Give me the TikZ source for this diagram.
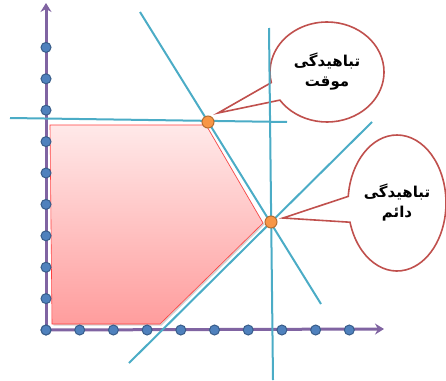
\documentclass[tikz,border=0pt]{standalone}
\usepackage{fontspec}
\newfontfamily\arabicfont[Script=Arabic]{DejaVu Sans}
\TeXXeTstate=1
\usetikzlibrary{shapes, shapes.callouts, arrows.meta, positioning, shadows, calc}

\definecolor{linecyan}{HTML}{4BACC6}
\definecolor{axispurple}{HTML}{8064A2}
\definecolor{dotblue}{HTML}{4F81BD}
\definecolor{dotedge}{HTML}{385D8A}
\definecolor{ptorange}{HTML}{F79646}
\definecolor{ptedge}{HTML}{B66D31}
\definecolor{bubbleedge}{HTML}{C0504D}
\definecolor{pinktop}{HTML}{FFE9E9}
\definecolor{pinkbot}{HTML}{FF9D9D}

\begin{document}
\begin{tikzpicture}[x=1pt, y=-1pt,
            axis/.style={draw=axispurple, line width=3pt, -{Stealth[length=9pt, width=11pt, inset=3pt]}},
            cline/.style={draw=linecyan, line width=2pt},
            tick/.style={circle, fill=dotblue, draw=dotedge, line width=1pt, minimum size=10pt, inner sep=0pt},
            vertex/.style={circle, fill=ptorange, draw=ptedge, line width=1pt, minimum size=12pt, inner sep=0pt},
            bubble/.style={
                ellipse callout, draw=bubbleedge, fill=white, line width=1.6pt,
                callout pointer arc=22, align=center, inner sep=0pt,
                font=\arabicfont\bfseries\fontsize{15}{20}\selectfont
            }
        ]
    \useasboundingbox (0,0) rectangle (446,380);

    % feasible region
    \path[draw=red!60!pinkbot, line width=0.6pt, top color=pinktop, bottom color=pinkbot,
          drop shadow={shadow xshift=1.5pt, shadow yshift=-1.5pt, opacity=0.35}]
        (50,125) -- (206,125) -- (263,223) -- (160,324) -- (52,324) -- cycle;

    % vertices
    \coordinate (tmp) at (208,122);
    \coordinate (perm) at (271,222);
    \coordinate (tmptip) at (218,113);
    \coordinate (permtip) at (283,218);

    % callouts
    \node[bubble, minimum width=114pt, minimum height=100pt,
          callout absolute pointer={(tmptip)}] (temporary) at (327,72)
        {\beginR تباهیدگی\endR\\\beginR موقت\endR};
    \node[bubble, minimum width=98pt, minimum height=136pt,
          callout absolute pointer={(permtip)}] (permanent) at (397,203)
        {\beginR تباهیدگی\endR\\\beginR دائم\endR};

    % axes
    \coordinate (origin) at (46,330);
    \coordinate (xend) at (384,329);
    \coordinate (yend) at (46,3);
    \draw[axis] (origin) -- (xend);
    \draw[axis] (origin) -- (yend);

    % constraint lines
    \coordinate (h1) at (10,118);  \coordinate (h2) at (287,122);
    \coordinate (v1) at (269,28);  \coordinate (v2) at (273,380);
    \coordinate (d1) at (140,12);  \coordinate (d2) at (321,304);
    \coordinate (e1) at (129,363); \coordinate (e2) at (372,122);
    \draw[cline] (h1) -- (h2);
    \draw[cline] (v1) -- (v2);
    \draw[cline] (d1) -- (d2);
    \draw[cline] (e1) -- (e2);

    % axis marks
    \foreach \i in {0,...,9} {
        \node[tick] (xt\i) at (46+33.7*\i,330) {};
        \node[tick] (yt\i) at (46,330-31.4*\i) {};
    }

    \node[vertex] (tmppt) at (tmp) {};
    \node[vertex] (permpt) at (perm) {};
\end{tikzpicture}
\end{document}
